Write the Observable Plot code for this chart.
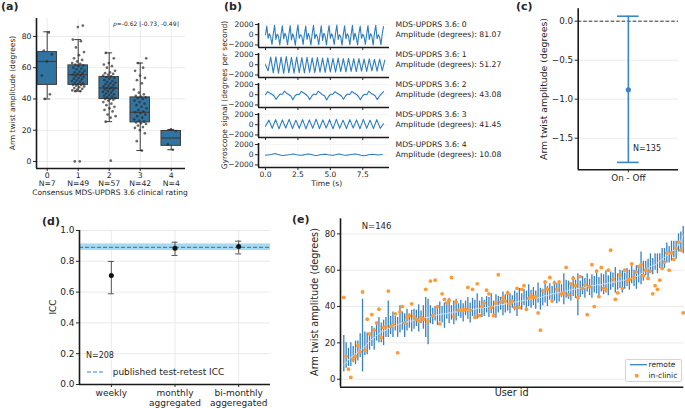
<!DOCTYPE html>
<html><head><meta charset="utf-8">
<script src="https://cdn.jsdelivr.net/npm/d3@7"></script>
<script src="https://cdn.jsdelivr.net/npm/@observablehq/plot@0.6"></script>
<style>
body{margin:0;background:#fff;}
#fig{position:relative;width:685px;height:408px;overflow:hidden;font-family:"DejaVu Sans",sans-serif;color:#262626;background:#fff;}
</style></head><body><div id="fig"></div><script>
// ---------------- (a) data ----------------
const ratingCats = [0, 1, 2, 3, 4];
const ratingN = [7, 49, 57, 42, 4];
const boxQ1 = [49, 49, 40, 25, 10];
const boxMedian = [64, 55.5, 47, 31.5, 15];
const boxQ3 = [70, 61.5, 54, 41, 19.5];
const whiskerLo = [40, 45, 25.5, 7, 7.5];
const whiskerHi = [83, 78, 69.5, 63, 20.5];
const strip0 = [82.5, 71, 68.5, 64, 55, 43, 40];
const strip1 = [0, 0, 87, 86, 78, 77, 73, 70, 68, 66, 65, 64, 63, 62.5, 62, 61.5, 61, 60, 59.5, 59, 58, 57.5, 57, 56.5, 56, 55.5, 55, 54.5, 54, 53.5, 53, 52.5, 52, 51.5, 51, 50.5, 50, 49.5, 49, 49, 48.5, 48, 47.5, 47, 46.5, 46, 45.5, 45, 45];
const strip2 = [0.5, 69.5, 66, 63, 62, 61, 60, 58, 57, 56.5, 56, 55.5, 55, 54.5, 54, 53.5, 53, 52, 51.5, 51, 50.5, 50, 49.5, 49, 48.5, 48, 47.5, 47, 47, 46.5, 46, 45.5, 45, 44.5, 44, 43.5, 43, 42.5, 42, 41.5, 41, 40.5, 40, 40, 39.5, 39, 38, 37, 36, 35, 34, 33, 32, 30, 29, 28, 25.5];
const strip3 = [7, 13, 18, 20, 21.5, 22, 23, 24, 24.5, 25, 25.5, 26, 27, 28, 29, 30, 31, 31.5, 32, 33, 34, 35, 36, 37, 38, 39, 40, 40.5, 41, 41.5, 42, 43, 44, 46, 50, 52, 53.5, 55, 58, 60, 63, 66];
const strip4 = [7.5, 11, 19.5, 20.5];
const rhoText = "=-0.62 [-0.73, -0.49]";

// ---------------- (b) data ----------------
const gyroRatings = [0, 1, 2, 3, 4];
const gyroAmplitude = ["81.07", "51.27", "43.08", "41.45", "10.08"];
const gyroStep = [0.1, 0.2, 0.1625, 0.26, 0.15];
const gyro0 = [0, 1700, -700, 200, -500, -1900, 200, 1850, -900, 100, -300, -2000, 100, 1750, -800, 300, -400, -1950, 0, 1800, -1000, 200, -600, -2050, 300, 1900, -700, 0, -300, -1900, 100, 1700, -900, 250, -500, -2000, 200, 1850, -800, 100, -400, -1950, 0, 1750, -1100, 300, -300, -2000, 150, 1800, -700, 200, -500, -1900, 250, 1900, -900, 0, -400, -2050, 100, 1750, -800, 200, -300, -1950, 0, 1850, -1000, 300, -600, -2000, 200, 1700, -700, 100, -400, -1900, 100, 1800, -900, 200, -300, -2000, 300, 1850, -800, 0, -500, -1950, 200, 1600];
const gyro1 = [0, -1200, 1500, -1600, 1550, -1650, 1500, -1700, 1600, -1600, 1450, -1650, 1500, -1550, 1400, -1600, 1450, -1500, 1350, -1550, 1400, -1450, 1300, -1500, 1350, -1400, 1250, -1450, 1300, -1350, 1200, -1400, 1250, -1300, 1150, -1350, 1200, -1250, 1100, -1300, 1150, -1200, 1050, -1250, 1100, -1150, 900];
const gyro2 = [0, 600, 350, 100, -200, -900, -300, 150, 100, 700, 300, 50, -250, -1000, -200, 100, 50, 650, 400, 100, -300, -950, -250, 150, 0, 700, 350, 0, -200, -1050, -300, 100, 100, 600, 300, 50, -250, -900, -200, 150, 50, 650, 350, 100, -300, -1000, -250, 100, 0, 700, 300, 50, -200, -950, -300, 150, 600];
const gyro3 = [-300, 900, -700, 1000, -800, 950, -650, 1050, -750, 900, -700, 1000, -800, 950, -700, 1100, -750, 950, -650, 1000, -800, 1050, -700, 900, -750, 1000, -650, 950, -800, 1050, -700, 900, -750, 1000, -700, 200];
const gyro4 = [-100, -50, 0, 50, 150, 250, 100, 0, -100, -150, -100, -50, 0, 50, 150, 100, 0, -50, -100, -80, 0, 80, 150, 100, 0, -100, -150, -100, 0, 50, 100, 80, 0, -50, -100, -80, 0, 100, 150, 50, -50, -100, -80, 0, 50, 100, 150, 80, 0, -100, -150, -200, -100, 0, 50, 80, 50, 0, -50, 0, 50];

// ---------------- (c) data ----------------
const diffCat = ["On - Off"];
const diffMean = [-0.88];
const diffLo = [-1.81];
const diffHi = [0.064];
const diffN = "N=135";

// ---------------- (d) data ----------------
const iccCats = ["weekly", "monthly\naggregated", "bi-monthly\naggeregated"];
const iccValue = [0.708, 0.885, 0.896];
const iccLo = [0.589, 0.838, 0.848];
const iccHi = [0.799, 0.924, 0.931];
const publishedICC = [0.89];
const publishedBand = [{lo: 0.87, hi: 0.913}];

// ---------------- (e) data ----------------
const remoteMedian = [8, 9, 11, 12, 13, 14, 15, 16, 17, 18,
  19.5, 21, 22, 23, 24, 25, 26, 26.5, 27, 28,
  28.5, 29, 29.5, 30, 30.5, 31, 31, 31.5, 32, 32,
  32.5, 33, 33, 33.5, 33.5, 34, 34, 34.5, 35, 35,
  35.5, 35.5, 36, 36, 36, 36.5, 36.5, 37, 37, 37.5,
  37.5, 37.5, 38, 38, 38, 38.5, 38.5, 39, 39, 39,
  39.5, 39.5, 40, 40, 40, 40.5, 40.5, 41, 41, 41.5,
  41.5, 42, 42, 42.5, 42.5, 43, 43, 43.5, 43.5, 44,
  44, 44.5, 44.5, 45, 45, 45.5, 46, 46, 46.5, 47,
  47, 47.5, 47.5, 48, 48, 48.5, 49, 49, 49.5, 49.5,
  50, 50, 50.5, 50.5, 51, 51, 51.5, 51.5, 52, 52,
  52, 52.5, 52.5, 53, 53, 53.5, 53.5, 54, 54, 54.5,
  54.5, 55, 55, 55.5, 56, 56.5, 57, 58, 59, 60,
  61, 62, 62.5, 63, 64, 65, 66, 67, 68, 69,
  70, 71, 72, 74, 76, 79];
const remoteBelow = [4, 3, 4, 5, 4, 6, 5, 4, 13, 5,
  6, 5, 4, 7, 3, 5, 6, 8, 4, 5,
  4, 6, 3, 7, 5, 4, 8, 5, 4, 6,
  5, 4, 7, 3, 6, 11, 15, 4, 5, 3,
  6, 4, 5, 8, 3, 6, 4, 7, 5, 3,
  4, 6, 3, 5, 7, 4, 5, 6, 3, 5,
  5, 3, 6, 4, 5, 7, 4, 3, 6, 5,
  4, 6, 3, 5, 8, 4, 5, 3, 6, 4,
  5, 4, 6, 3, 7, 5, 4, 6, 3, 5,
  4, 6, 5, 3, 7, 4, 5, 6, 4, 5,
  15, 5, 4, 6, 3, 5, 7, 4, 5, 6,
  4, 6, 5, 7, 4, 3, 6, 5, 4, 7,
  5, 4, 6, 3, 5, 7, 4, 6, 5, 3,
  6, 4, 5, 3, 6, 4, 5, 6, 4, 5,
  5, 4, 6, 4, 5, 10];
const remoteAbove = [16, 11, 6, 8, 5, 7, 6, 9, 27, 8,
  6, 4, 7, 5, 6, 9, 5, 6, 7, 15,
  6, 8, 5, 4, 10, 6, 5, 7, 4, 6,
  6, 5, 8, 4, 7, 11, 10, 6, 4, 5,
  5, 7, 4, 6, 5, 8, 4, 6, 7, 4,
  6, 4, 5, 7, 4, 6, 5, 8, 4, 6,
  4, 6, 5, 7, 3, 6, 5, 4, 7, 5,
  7, 5, 4, 6, 5, 7, 4, 6, 5, 8,
  5, 6, 4, 8, 5, 4, 7, 5, 6, 4,
  7, 5, 6, 4, 10, 6, 5, 4, 7, 5,
  8, 4, 6, 5, 7, 4, 6, 5, 8, 4,
  6, 5, 7, 4, 6, 5, 8, 4, 6, 5,
  4, 6, 5, 7, 4, 6, 5, 12, 6, 5,
  5, 7, 4, 6, 5, 4, 6, 5, 7, 4,
  6, 5, 4, 6, 5, 5];
const inClinic = [45, 12.5, 5.5, 1, 11, 12.5, 18.5, 15, 48, 16,
  33, 25, 35.5, 27, 31, 38.5, 23, 28.5, 29, 48.5,
  29, 30, 36, 14.5, 37, 40, 31, 34, 35, 41.5,
  34.5, 33, 32, 34, 33, 49.5, 32, 54, 35, 54.5,
  40, 30.5, 47, 44, 42, 43.5, 56, 34.5, 42.5, 38,
  38, 38, 38.5, 50.5, 38, 49.5, 34, 52.5, 35, 40,
  42, 49, 47, 39.5, 35, 42, 57.5, 42.5, 45, 43,
  47.5, 41.5, 43, 39.5, 50, 39.5, 49.5, 51.5, 38.5, 44.5,
  46, 45, 45.5, 36.5, 27, 48.5, 53.5, 49.5, 56, 43,
  53, 49.5, 53.5, 47, 47.5, 61.5, 46.5, 52.5, 55.5, 51.5,
  45, 56.5, 50, 52, 35.5, 51, 63, 40, 59.5, 45.5,
  61.5, 50, 49.5, 60, 71, 55, 44, 47.5, 57.5, 50,
  60, 54, 55, 63.5, 56, 59, 62, 63, 57, 60,
  55.5, 59.5, 47, 51.5, 49.5, 54.5, 61, 64.5, 69.5, 60,
  69.5, 66, 72, 75.5, 71, 36.5];

// ---------------- helpers ----------------
const fig = document.getElementById("fig");
const FONT = "DejaVu Sans";
const GRID = "#e4e4e4";
const SPINE = "#1a1a1a";
const BLUE = "#3a86c8";
const minus = s => String(s).replace("-", "\u2212");
const fmtInt = d => minus(d);
const fmt1 = d => minus(d.toFixed(1));

function mk(fs, opts) {
  return Plot.plot({...opts, style: {fontFamily: FONT, fontSize: fs + "px", color: "#262626", background: "transparent", overflow: "visible"}});
}
function put(node, left, top) {
  node.style.position = "absolute";
  node.style.left = left + "px";
  node.style.top = top + "px";
  fig.appendChild(node);
}
function txt(text, x, y, o = {}) {
  const d = document.createElement("div");
  d.textContent = text;
  d.style.cssText = `position:absolute;left:${x}px;top:${y}px;white-space:nowrap;line-height:1;font-size:${o.size || 7.5}px;` +
    (o.bold ? "font-weight:bold;" : "") +
    `transform:${o.rotate ? "translate(-50%,-50%) rotate(-90deg)" : o.center ? "translate(-50%,-50%)" : o.left ? "translateY(-50%)" : "none"};`;
  fig.appendChild(d);
  return d;
}
function spines(xmin, ymin) {
  return [Plot.ruleX([xmin], {stroke: SPINE, strokeWidth: 1.6}), Plot.ruleY([ymin], {stroke: SPINE, strokeWidth: 1.6})];
}
const jitter = i => ((((i + 1) * 0.6180339887) % 1) - 0.5) * 0.42;

// ---------------- (a) ----------------
{
  const strips = [strip0, strip1, strip2, strip3, strip4];
  const stripData = strips.flatMap((arr, c) => arr.map((v, i) => ({c, v, i})));
  const boxes = ratingCats.map(c => ({c, q1: boxQ1[c], med: boxMedian[c], q3: boxQ3[c], lo: whiskerLo[c], hi: whiskerHi[c]}));
  const BW = 0.315, CAP = 0.11, EDGE = "#3d3d3d";
  const xd = [-0.345, 4.46], yd = [-4.5, 91.5];
  const p = mk(7.7, {
    width: 190, height: 200, marginLeft: 36, marginRight: 5, marginTop: 18, marginBottom: 32,
    x: {domain: xd}, y: {domain: yd},
    marks: [
      Plot.ruleY([0, 20, 40, 60, 80], {stroke: GRID, strokeWidth: 0.8}),
      Plot.ruleX(ratingCats, {stroke: GRID, strokeWidth: 0.8}),
      Plot.ruleX(boxes, {x: "c", y1: "lo", y2: "q1", stroke: EDGE, strokeWidth: 1}),
      Plot.ruleX(boxes, {x: "c", y1: "q3", y2: "hi", stroke: EDGE, strokeWidth: 1}),
      Plot.ruleY(boxes, {y: "lo", x1: d => d.c - CAP, x2: d => d.c + CAP, stroke: EDGE, strokeWidth: 1}),
      Plot.ruleY(boxes, {y: "hi", x1: d => d.c - CAP, x2: d => d.c + CAP, stroke: EDGE, strokeWidth: 1}),
      Plot.rect(boxes, {x1: d => d.c - BW, x2: d => d.c + BW, y1: "q1", y2: "q3", fill: "#3274a1", stroke: EDGE, strokeWidth: 1}),
      Plot.ruleY(boxes, {y: "med", x1: d => d.c - BW, x2: d => d.c + BW, stroke: EDGE, strokeWidth: 1.2}),
      Plot.dot(stripData, {x: d => d.c + jitter(d.i), y: "v", r: 1.35, fill: "#2b2b2b", fillOpacity: 0.7, stroke: "none"}),
      ...spines(xd[0], yd[0]),
      Plot.axisY([0, 20, 40, 60, 80], {tickSize: 3, tickPadding: 2, label: null, tickFormat: fmtInt}),
      Plot.axisX(ratingCats, {tickSize: 3, tickPadding: 1, label: null, tickFormat: c => `${c}\nN=${ratingN[c]}`})
    ]
  });
  put(p, 0, 0);
  txt("(a)", 1, 1, {bold: true, size: 11});
  txt("Arm twist amplitude (degrees)", 13, 93, {rotate: true, size: 7.5});
  txt("Consensus MDS-UPDRS 3.6 clinical rating", 110, 192.5, {center: true, size: 7.5});
  const r = txt("", 113, 24, {left: true, size: 6});
  r.innerHTML = "<i>\u03c1</i>" + rhoText;
}

// ---------------- (b) ----------------
{
  const series = [gyro0, gyro1, gyro2, gyro3, gyro4];
  const xd = [-0.54, 9.56], yd = [-2500, 2200];
  series.forEach((vals, k) => {
    const data = vals.map((v, i) => ({t: i * gyroStep[k], v}));
    const bottom = 47 + 30.1 * k, top = bottom - 24, last = k === 4;
    const mb = last ? 22 : 4;
    const p = mk(7.5, {
      width: 172, height: 24 + 4 + mb, marginLeft: 36, marginRight: 5, marginTop: 4, marginBottom: mb,
      x: {domain: xd}, y: {domain: yd},
      marks: [
        Plot.ruleY([-2000, 0, 2000], {stroke: "#efefef", strokeWidth: 0.7}),
        Plot.ruleX([0, 2.5, 5, 7.5], {stroke: "#efefef", strokeWidth: 0.7}),
        Plot.line(data, {x: "t", y: "v", stroke: "#2e7ebf", strokeWidth: 1.1}),
        ...spines(xd[0], yd[0]),
        Plot.axisY([-2000, 0, 2000], {tickSize: 3, tickPadding: 2, label: null, tickFormat: fmtInt}),
        Plot.axisX([0, 2.5, 5, 7.5], {tickSize: 3, tickPadding: 1.5, label: null, tickFormat: last ? (d => d.toFixed(1)) : (() => "")})
      ]
    });
    put(p, 222, top - 4);
    txt(`MDS-UPDRS 3.6: ${gyroRatings[k]}`, 395.5, 25 + 30.1 * k, {left: true, size: 7.7});
    txt(`Amplitude (degrees): ${gyroAmplitude[k]}`, 395.5, 34.5 + 30.1 * k, {left: true, size: 7.7});
  });
  txt("(b)", 224, 1, {bold: true, size: 11});
  txt("Gyroscope signal (degrees per second)", 225, 95, {rotate: true, size: 7.6});
  txt("Time (s)", 326.7, 184, {center: true, size: 7.6});
}

// ---------------- (c) ----------------
{
  const data = diffCat.map((c, i) => ({x: 0, mean: diffMean[i], lo: diffLo[i], hi: diffHi[i]}));
  const xd = [-1, 1], yd = [-1.905, 0.159];
  const CAP = 0.216;
  const p = mk(8.8, {
    width: 145, height: 192, marginLeft: 37.7, marginRight: 7, marginTop: 8.3, marginBottom: 22.7,
    x: {domain: xd}, y: {domain: yd},
    marks: [
      Plot.ruleY([0, -0.5, -1, -1.5], {stroke: GRID, strokeWidth: 0.8}),
      Plot.ruleY([0], {stroke: "#222", strokeDasharray: "3.5,2", strokeWidth: 0.9}),
      Plot.ruleX(data, {x: "x", y1: "lo", y2: "hi", stroke: BLUE, strokeWidth: 1.6}),
      Plot.ruleY(data, {y: "lo", x1: d => d.x - CAP, x2: d => d.x + CAP, stroke: BLUE, strokeWidth: 1.6}),
      Plot.ruleY(data, {y: "hi", x1: d => d.x - CAP, x2: d => d.x + CAP, stroke: BLUE, strokeWidth: 1.6}),
      Plot.dot(data, {x: "x", y: "mean", r: 2.6, fill: BLUE, stroke: "none"}),
      ...spines(xd[0], yd[0]),
      Plot.axisY([0, -0.5, -1, -1.5], {tickSize: 3, tickPadding: 2, label: null, tickFormat: fmt1}),
      Plot.axisX([0], {tickSize: 3, tickPadding: 2, label: null, tickFormat: i => diffCat[i]})
    ]
  });
  put(p, 540, 0);
  txt("(c)", 516, 1, {bold: true, size: 11});
  txt("Arm twist amplitude (degrees)", 544, 89, {rotate: true, size: 9.3});
  txt(diffN, 647, 148.7, {center: true, size: 8});
}

// ---------------- (d) ----------------
{
  const data = iccCats.map((c, i) => ({i, v: iccValue[i], lo: iccLo[i], hi: iccHi[i]}));
  const xd = [-0.5, 2.5], yd = [0, 1];
  const CAP = 0.047;
  const p = mk(9, {
    width: 245, height: 186, marginLeft: 49, marginRight: 5, marginTop: 8, marginBottom: 24,
    x: {domain: xd}, y: {domain: yd},
    marks: [
      Plot.ruleY([0, 0.2, 0.4, 0.6, 0.8, 1.0], {stroke: GRID, strokeWidth: 0.8}),
      Plot.ruleX([0, 1, 2], {stroke: GRID, strokeWidth: 0.8}),
      Plot.rect(publishedBand, {x1: xd[0], x2: xd[1], y1: "lo", y2: "hi", fill: "#a9d9ee"}),
      Plot.ruleY(publishedICC, {stroke: BLUE, strokeDasharray: "4,2", strokeWidth: 1.2}),
      Plot.ruleX(data, {x: "i", y1: "lo", y2: "hi", stroke: "#555", strokeWidth: 1}),
      Plot.ruleY(data, {y: "lo", x1: d => d.i - CAP, x2: d => d.i + CAP, stroke: "#555", strokeWidth: 1}),
      Plot.ruleY(data, {y: "hi", x1: d => d.i - CAP, x2: d => d.i + CAP, stroke: "#555", strokeWidth: 1}),
      Plot.dot(data, {x: "i", y: "v", r: 2.5, fill: "#111", stroke: "none"}),
      ...spines(xd[0], yd[0]),
      Plot.axisY([0, 0.2, 0.4, 0.6, 0.8, 1.0], {tickSize: 3, tickPadding: 2, label: null, tickFormat: fmt1}),
      Plot.axisX([0, 1, 2], {tickSize: 3, tickPadding: 1.5, label: null, lineHeight: 1.1, tickFormat: i => iccCats[i]})
    ]
  });
  put(p, 30, 222);
  txt("(d)", 42, 216, {bold: true, size: 11});
  txt("ICC", 53, 307, {rotate: true, size: 9});
  txt("N=208", 86, 356, {left: true, size: 8});
  const s = document.createElementNS("http://www.w3.org/2000/svg", "svg");
  s.setAttribute("width", "20"); s.setAttribute("height", "4");
  s.innerHTML = `<line x1="1" x2="19" y1="2" y2="2" stroke="${BLUE}" stroke-width="1.2" stroke-dasharray="4,2"/>`;
  put(s, 86, 369.7);
  txt("published test-retest ICC", 112.7, 371.7, {left: true, size: 9});
}

// ---------------- (e) ----------------
{
  const users = remoteMedian.map((m, i) => ({i, med: m, lo: m - remoteBelow[i], hi: m + remoteAbove[i], clinic: inClinic[i]}));
  const xd = [-1.41, 145.26], yd = [-4.4, 88.3];
  const p = mk(8.5, {
    width: 385, height: 198, marginLeft: 40, marginRight: 1.7, marginTop: 8.3, marginBottom: 21.3,
    x: {domain: xd, axis: null}, y: {domain: yd},
    marks: [
      Plot.ruleY([0, 20, 40, 60, 80], {stroke: GRID, strokeWidth: 0.8}),
      Plot.ruleX(users, {x: "i", y1: "lo", y2: "hi", stroke: "#3a80bf", strokeWidth: 1.3}),
      Plot.line(users, {x: "i", y: "med", stroke: "#d2e4f3", strokeWidth: 1}),
      Plot.dot(users, {x: "i", y: "clinic", r: 1.9, fill: "#fd9a35", stroke: "none"}),
      ...spines(xd[0], yd[0]),
      Plot.axisY([0, 20, 40, 60, 80], {tickSize: 3, tickPadding: 2, label: null, tickFormat: fmtInt})
    ]
  });
  put(p, 300, 210);
  txt("(e)", 292, 214, {bold: true, size: 11});
  txt("Arm twist amplitude (degrees)", 315, 302, {rotate: true, size: 9.7});
  txt("User id", 511.7, 392.5, {center: true, size: 9.7});
  txt("N=146", 361.7, 226, {left: true, size: 8.5});
  const leg = document.createElement("div");
  leg.style.cssText = "position:absolute;left:625px;top:359px;width:57px;height:23px;border:1px solid #d4d4d4;border-radius:2px;background:#fff;box-sizing:border-box;";
  leg.innerHTML = `<svg width="57" height="23" style="position:absolute;left:-1px;top:-1px"><line x1="5" x2="22" y1="5.7" y2="5.7" stroke="#3a80bf" stroke-width="1.3"/><circle cx="11.7" cy="16.7" r="2" fill="#fd9a35"/></svg>`;
  fig.appendChild(leg);
  txt("remote", 648.5, 364.7, {left: true, size: 7.5});
  txt("in-clinic", 648.5, 375.7, {left: true, size: 7.5});
}
</script></body></html>
